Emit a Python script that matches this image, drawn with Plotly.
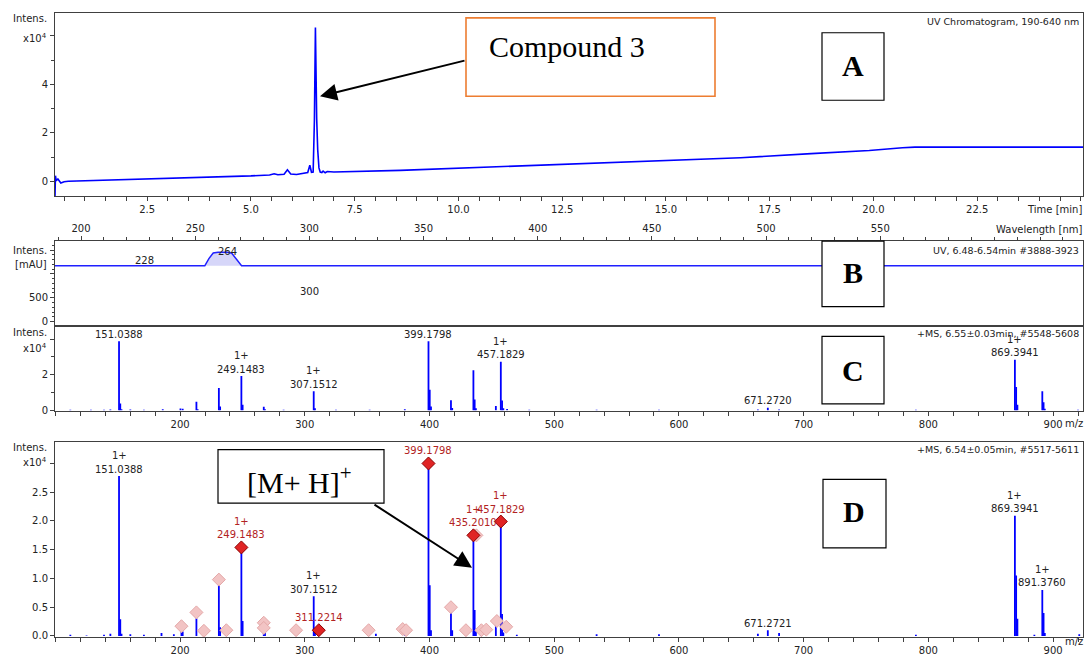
import plotly.graph_objects as go

# ---------------- data ----------------
# Panel A: UV chromatogram (intensity x10^4)
uv_time = [0.28, 0.29, 0.31, 0.35, 0.42, 0.50, 0.60, 0.80, 1.50, 2.50, 3.50, 4.50, 5.00, 5.45,
           5.56, 5.65, 5.80, 5.88, 5.96, 6.10, 6.30, 6.37, 6.42, 6.46, 6.50, 6.53, 6.555, 6.57,
           6.585, 6.61, 6.64, 6.67, 6.71, 6.74, 6.79, 6.84, 6.88, 6.93, 7.00, 8.60, 10.0, 11.5,
           13.5, 15.5, 16.8, 18.5, 19.9, 20.7, 21.0, 22.5, 25.05]
uv_intens = [-0.63, 0.23, 0.02, 0.09, -0.07, -0.02, 0.00, 0.01, 0.03, 0.07, 0.13, 0.19, 0.22, 0.26,
             0.31, 0.27, 0.29, 0.47, 0.30, 0.28, 0.32, 0.36, 0.66, 0.37, 0.38, 2.50, 6.35, 4.10,
             2.60, 1.30, 0.55, 0.38, 0.36, 0.42, 0.35, 0.40, 0.40, 0.37, 0.38, 0.45, 0.54, 0.64,
             0.77, 0.88, 0.97, 1.14, 1.27, 1.38, 1.41, 1.41, 1.41]

# Panel B: UV spectrum (mAU)
dad_wl = [188.6, 254.2, 256.0, 257.9, 260.0, 262.1, 264.0, 265.9, 268.0, 270.3, 638.8]
dad_mau = [1170, 1170, 1320, 1440, 1455, 1460, 1455, 1440, 1300, 1170, 1170]
dad_peak_labels = [228, 264, 300]

# Panel C: MS spectrum (intensity x10^4)
ms_c_mz = [112.0, 128.5, 139.0, 144.1, 151.0388, 152.04, 153.04, 160.1, 171.0, 186.1,
           200.3, 202.1, 213.1, 214.1, 231.1, 232.1, 249.1483, 250.15, 267.1, 268.1,
           283.0, 307.1512, 308.15, 325.0, 352.0, 380.2, 399.1798, 400.18, 401.18, 417.2,
           418.2, 435.2010, 436.2, 437.2, 453.2, 457.1829, 458.18, 459.19, 462.2, 480.0,
           534.0, 584.0, 663.3, 671.2720, 680.3, 790.0, 869.3941, 870.40, 871.40, 891.3760,
           892.38, 893.38, 920.0]
ms_c_int = [0.02, 0.02, 0.02, 0.04, 3.87, 0.37, 0.05, 0.04, 0.02, 0.05,
            0.09, 0.08, 0.47, 0.05, 1.25, 0.20, 1.92, 0.30, 0.19, 0.05,
            0.02, 1.06, 0.10, 0.02, 0.02, 0.05, 3.87, 1.15, 0.20, 0.56,
            0.12, 2.24, 0.60, 0.10, 0.24, 2.72, 0.55, 0.10, 0.06, 0.02,
            0.02, 0.02, 0.03, 0.13, 0.04, 0.02, 2.83, 1.30, 0.30, 1.06,
            0.45, 0.08, 0.02]
c_lab_mz = [151.0388, 249.1483, 307.1512, 399.1798, 457.1829, 671.2720, 869.3941]
c_lab_charge = ['', '1+', '1+', '', '1+', '', '1+']

# Panel D: MS spectrum (intensity x10^4)
ms_d_mz = [112.0, 125.0, 139.0, 144.1, 151.0388, 152.04, 153.04, 160.1, 171.0, 185.1,
           195.0, 201.1, 202.1, 213.1, 219.1, 231.1, 232.1, 237.1, 249.1483, 250.15,
           267.1, 268.1, 293.0, 307.1512, 308.15, 311.2214, 351.2, 357.0, 380.2, 399.1798,
           400.18, 401.18, 417.2, 418.2, 429.2, 435.2010, 436.2, 437.2, 441.2, 453.2,
           457.1829, 458.18, 459.19, 470.0, 534.0, 584.0, 663.3, 671.2721, 680.3, 790.0,
           869.3941, 870.40, 871.40, 885.0, 891.3760, 892.38, 893.38, 921.0]
ms_d_int = [0.02, 0.01, 0.02, 0.04, 2.78, 0.29, 0.04, 0.03, 0.02, 0.05,
            0.03, 0.10, 0.08, 0.31, 0.04, 0.93, 0.15, 0.03, 1.54, 0.26,
            0.15, 0.05, 0.02, 0.69, 0.08, 0.10, 0.02, 0.04, 0.04, 3.00,
            0.88, 0.10, 0.45, 0.10, 0.02, 1.75, 0.45, 0.08, 0.05, 0.20,
            1.99, 0.38, 0.06, 0.02, 0.03, 0.03, 0.04, 0.10, 0.05, 0.02,
            2.09, 1.05, 0.30, 0.02, 0.80, 0.40, 0.05, 0.03]
d_red_mz = [249.1483, 311.2214, 399.1798, 435.2010, 457.1829]
d_red_int = [1.54, 0.10, 3.00, 1.75, 1.99]
d_pink_mz = [201.1, 213.1, 219.1, 231.1, 237.1, 267.1, 267.1, 293.0, 351.2, 378.5,
             381.2, 417.2, 429.2, 437.6, 441.6, 445.5, 454.0, 461.5]
d_pink_int = [0.17, 0.41, 0.09, 0.98, 0.10, 0.23, 0.14, 0.10, 0.10, 0.12,
              0.10, 0.50, 0.10, 1.75, 0.10, 0.11, 0.26, 0.16]
d_lab_mz = [151.0388, 249.1483, 307.1512, 311.2214, 399.1798, 435.2010, 457.1829,
            671.2721, 869.3941, 891.3760]
d_lab_charge = ['1+', '1+', '1+', '', '', '1+', '1+', '', '1+', '1+']

time_ticks = [2.5, 5.0, 7.5, 10.0, 12.5, 15.0, 17.5, 20.0, 22.5]
wl_ticks = [200, 250, 300, 350, 400, 450, 500, 550]
mz_ticks = [200, 300, 400, 500, 600, 700, 800, 900]

# ---------------- layout helpers ----------------
W, H = 1088, 659
FONT = "DejaVu Sans"
BLUE = "#0000FF"
RED = "#B22222"
AX = "#404040"


def px(x):
    return x / W


def py(y):
    return 1 - y / H


def sticks(mz, inten):
    xs, ys = [], []
    for m, h in zip(mz, inten):
        xs += [m, m, None]
        ys += [0, h, None]
    return xs, ys


def height_of(mz_list, int_list, m):
    return max(h for x, h in zip(mz_list, int_list) if abs(x - m) < 0.01)


def axis(**kw):
    d = dict(showline=True, linecolor=AX, linewidth=1, mirror=True, ticks='outside',
             ticklen=4, tickcolor=AX, tickwidth=1, showgrid=False, zeroline=False,
             tickfont=dict(family=FONT, size=10, color='#222'), fixedrange=True)
    d.update(kw)
    return d


XDOM = [px(55), px(1083)]
fig = go.Figure()

# Panel A
fig.add_trace(go.Scatter(x=uv_time, y=uv_intens, mode='lines',
                         line=dict(color=BLUE, width=1.6), xaxis='x', yaxis='y'))

# Panel B
pk = [i for i, v in enumerate(dad_mau) if v > min(dad_mau)]
pk = list(range(pk[0] - 1, pk[-1] + 2))
fig.add_trace(go.Scatter(x=[dad_wl[i] for i in pk], y=[dad_mau[i] for i in pk],
                         mode='lines', fill='toself', fillcolor='rgba(90,90,230,0.25)',
                         line=dict(width=0), xaxis='x2', yaxis='y2'))
fig.add_trace(go.Scatter(x=dad_wl, y=dad_mau, mode='lines',
                         line=dict(color='#2020FF', width=1.5), xaxis='x2', yaxis='y2'))

# Panel C
xs, ys = sticks(ms_c_mz, ms_c_int)
fig.add_trace(go.Scatter(x=xs, y=ys, mode='lines', line=dict(color=BLUE, width=1.8),
                         xaxis='x3', yaxis='y3'))

# Panel D
xs, ys = sticks(ms_d_mz, ms_d_int)
fig.add_trace(go.Scatter(x=xs, y=ys, mode='lines', line=dict(color=BLUE, width=1.8),
                         xaxis='x4', yaxis='y4'))
fig.add_trace(go.Scatter(x=d_pink_mz, y=d_pink_int, mode='markers',
                         marker=dict(symbol='diamond', size=10, color='#F2C4C4',
                                     line=dict(color='#E4A8A8', width=1)),
                         xaxis='x4', yaxis='y4'))
fig.add_trace(go.Scatter(x=d_red_mz, y=d_red_int, mode='markers',
                         marker=dict(symbol='diamond', size=10, color='#E02424',
                                     line=dict(color='#8B0000', width=1)),
                         xaxis='x4', yaxis='y4'))

ann = []


def text(x, y, s, size=10, color='#222', xanchor='center', family=FONT, bold=False, **kw):
    if bold:
        s = '<b>' + s + '</b>'
    a = dict(x=x, y=y, text=s, showarrow=False, xanchor=xanchor, yanchor='middle',
             font=dict(family=family, size=size, color=color))
    a.setdefault('xref', 'paper')
    a.setdefault('yref', 'paper')
    a.update(kw)
    ann.append(a)


# axis captions
for (yi, yx) in [(19, 38), (335, 351), (451, 466)]:
    text(px(49), py(yi), 'Intens.', xanchor='right')
    text(px(49), py(yx), 'x10<sup>4</sup>', xanchor='right')
text(px(49), py(252), 'Intens.', xanchor='right')
text(px(49), py(267), '[mAU]', xanchor='right')
text(px(1084), py(211), 'Time [min]', xanchor='right')
text(px(1084), py(231), 'Wavelength [nm]', xanchor='right')
text(px(1085), py(427), 'm/z', xanchor='right')
text(px(1085), py(646), 'm/z', xanchor='right')

# headers
text(px(1081), py(22), 'UV Chromatogram, 190-640 nm', size=9.5, xanchor='right')
text(px(1081), py(252), 'UV, 6.48-6.54min #3888-3923', size=9.5, xanchor='right')
text(px(1081), py(336), '+MS, 6.55±0.03min, #5548-5608', size=9.5, xanchor='right')
text(px(1081), py(453), '+MS, 6.54±0.05min, #5517-5611', size=9.5, xanchor='right')

# UV spectrum labels
for wl, ys_ in zip(dad_peak_labels, [5, 0, -26]):
    yv = max(v for w, v in zip(dad_wl, dad_mau) if abs(w - wl) < 2.5) if wl == 264 else 1170
    text(wl, yv, str(wl), xref='x2', yref='y2', yshift=ys_)

# MS labels C
for m, ch in zip(c_lab_mz, c_lab_charge):
    h = height_of(ms_c_mz, ms_c_int, m)
    text(m, h, f"{m:.4f}", xref='x3', yref='y3', yshift=7)
    if ch:
        text(m, h, ch, xref='x3', yref='y3', yshift=20.5)

# MS labels D
for m, ch in zip(d_lab_mz, d_lab_charge):
    red = m in d_red_mz
    h = d_red_int[d_red_mz.index(m)] if red else height_of(ms_d_mz, ms_d_int, m)
    off = 12.5 if red else 7
    col = RED if red else '#222'
    text(m, h, f"{m:.4f}", xref='x4', yref='y4', yshift=off, color=col)
    if ch:
        text(m, h, ch, xref='x4', yref='y4', yshift=off + 13.5, color=col)

# big labels
SERIF = "Liberation Serif"
text(px(487), py(47), 'Compound 3', size=30, family=SERIF, xanchor='left', color='black')
for lab, cx, cy in [('A', 853, 66), ('B', 853, 275), ('C', 853, 373), ('D', 854, 515)]:
    text(px(cx), py(cy), lab, size=30, family=SERIF, bold=True, color='black')
text(px(299), py(484), '[M+ H]<sup>+</sup>', size=30, family=SERIF, color='black')

# arrows
ann.append(dict(x=px(320), y=py(97), xref='paper', yref='paper', ax=146, ay=-36, text='',
                showarrow=True, arrowhead=2, arrowsize=1.7, arrowwidth=2.0, arrowcolor='black'))
ann.append(dict(x=px(472), y=py(572), xref='paper', yref='paper', ax=-99, ay=-64, text='',
                showarrow=True, arrowhead=2, arrowsize=1.7, arrowwidth=2.0, arrowcolor='black'))

shapes = []


def box(x0, y0, x1, y1, color='black', width=1.2):
    shapes.append(dict(type='rect', xref='paper', yref='paper', x0=px(x0), x1=px(x1),
                       y0=py(y1), y1=py(y0), line=dict(color=color, width=width),
                       fillcolor='white', layer='above'))


box(466, 18, 715, 97, color='#ED7D31', width=1.6)
box(822, 33, 884, 101)
box(822, 243, 884, 309)
box(822, 339, 884, 407)
box(823, 483, 886, 552)
box(218, 453, 384, 507)

fig.update_layout(
    width=W, height=H, margin=dict(l=0, r=0, t=0, b=0),
    paper_bgcolor='white', plot_bgcolor='white', showlegend=False,
    font=dict(family=FONT, size=10, color='#222'),
    xaxis=axis(domain=XDOM, anchor='y', range=[0.28, 25.05], tickmode='array',
               tickvals=time_ticks, ticktext=[f"{v:.1f}" for v in time_ticks],
               minor=dict(tickmode='linear', tick0=0, dtick=0.5, ticklen=4, ticks='outside',
                          tickcolor=AX)),
    yaxis=axis(domain=[py(198), py(13)], anchor='x', range=[-0.63, 6.95], tickmode='array',
               tickvals=[0, 2, 4, 6], ticktext=['0', '2', '4', ''],
               minor=dict(tickmode='linear', tick0=0, dtick=1, ticklen=3, ticks='outside',
                          tickcolor=AX)),
    xaxis2=axis(domain=XDOM, anchor='y2', side='top', range=[188.6, 638.8], tickmode='array',
                tickvals=wl_ticks, ticktext=[str(v) for v in wl_ticks],
                minor=dict(tickmode='linear', tick0=0, dtick=10, ticklen=3, ticks='outside',
                           tickcolor=AX)),
    yaxis2=axis(domain=[py(327), py(243)], anchor='x2', range=[-62, 1687], tickmode='array',
                tickvals=[0, 500, 1000, 1500], ticktext=['0', '500', '', ''],
                minor=dict(tickmode='linear', tick0=0, dtick=100, ticklen=2, ticks='outside',
                           tickcolor=AX)),
    xaxis3=axis(domain=XDOM, anchor='y3', range=[99.7, 924], tickmode='array',
                tickvals=mz_ticks, ticktext=[str(v) for v in mz_ticks],
                minor=dict(tickmode='linear', tick0=0, dtick=20, ticklen=4, ticks='outside',
                           tickcolor=AX)),
    yaxis3=axis(domain=[py(414), py(330)], anchor='x3', range=[-0.04, 4.65], tickmode='array',
                tickvals=[0, 2, 4], ticktext=['0', '2', ''],
                minor=dict(tickmode='linear', tick0=0, dtick=1, ticklen=3, ticks='outside',
                           tickcolor=AX)),
    xaxis4=axis(domain=XDOM, anchor='y4', range=[99.7, 924], tickmode='array',
                tickvals=mz_ticks, ticktext=[str(v) for v in mz_ticks],
                minor=dict(tickmode='linear', tick0=0, dtick=20, ticklen=4, ticks='outside',
                           tickcolor=AX)),
    yaxis4=axis(domain=[py(642), py(445)], anchor='x4', range=[-0.02, 3.38], tickmode='array',
                tickvals=[0, 0.5, 1.0, 1.5, 2.0, 2.5, 3.0],
                ticktext=['0.0', '0.5', '1.0', '1.5', '2.0', '2.5', '']),
    annotations=ann, shapes=shapes,
)

fig.write_html("out.html", config={'displayModeBar': False},
               post_script="document.body.style.margin='0px';")
